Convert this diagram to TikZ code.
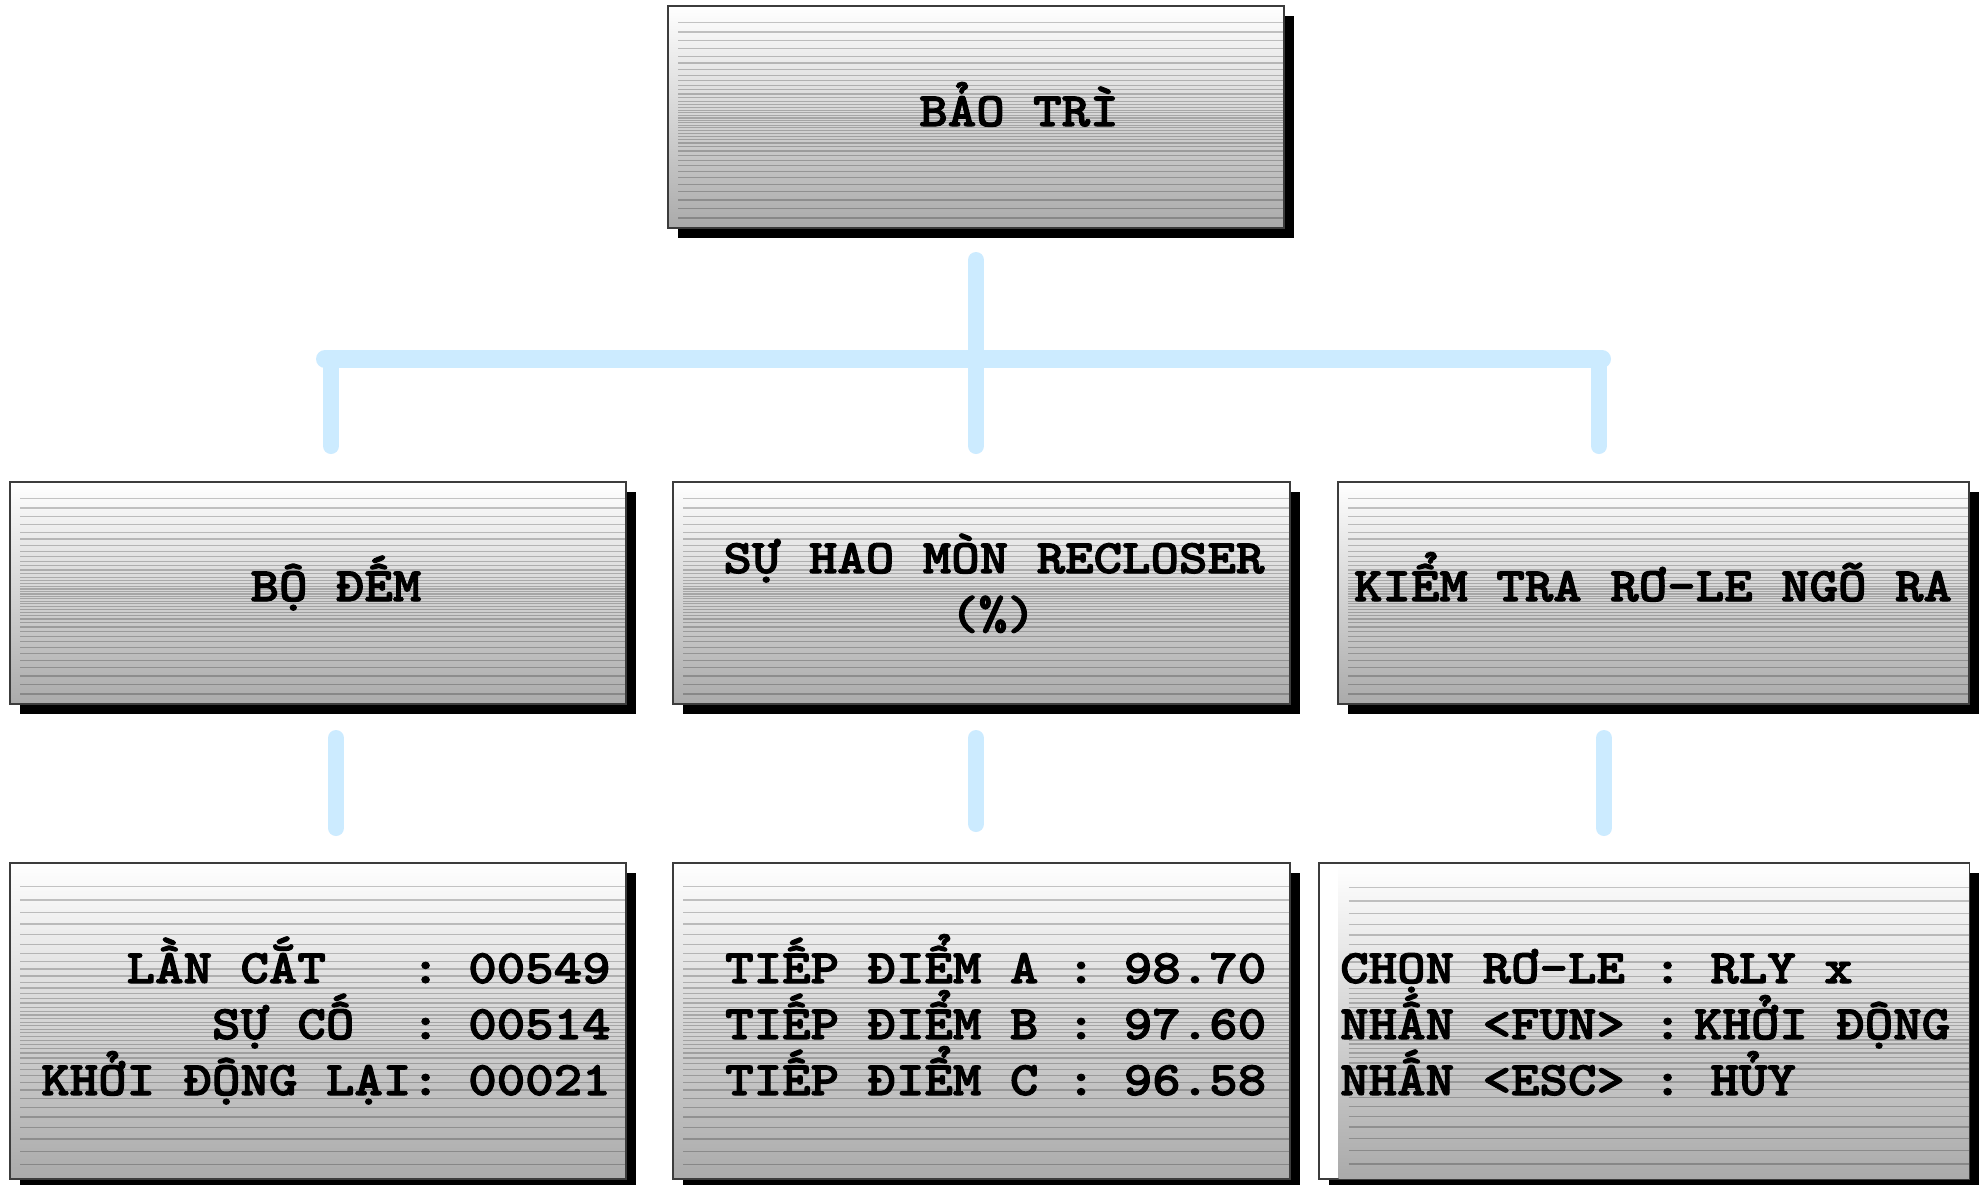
\documentclass[tikz,border=0pt]{standalone}
\usepackage{fontspec}
\setmainfont{Liberation Mono}
\newfontfamily\courfont{lmmonolt10-bold.otf}[FakeStretch=1.13,FakeBold=2.2]
\usetikzlibrary{shadows,calc}
\definecolor{connc}{RGB}{204,235,255}
\definecolor{framec}{RGB}{60,60,60}
\definecolor{botc}{RGB}{170,170,170}
\tikzset{
  stripes/.style={path picture={
    \foreach \i in {-20,...,20}{
      \pgfmathsetmacro\u{\i/20}
      \pgfmathsetmacro\t{0.515+0.44*(0.5*\u+0.5*\u*\u*\u)}
      \draw[black,opacity=0.22,line width=1.3pt]
        ($(path picture bounding box.north west)!\t!(path picture bounding box.south west)+(10,0)$) --
        ($(path picture bounding box.north east)!\t!(path picture bounding box.south east)$);
    }}},
  panel/.style={rectangle, draw=framec, line width=1.4pt, top color=white, bottom color=botc,
    stripes, inner sep=0pt,
    drop shadow={shadow xshift=10pt,shadow yshift=-10pt,opacity=1,fill=black}},
  txt/.style={font=\courfont\fontsize{48}{56}\selectfont\frenchspacing, text=black, inner sep=0pt},
  linkline/.style={draw=connc, line width=16pt, line cap=round},
}
\begin{document}
\begin{tikzpicture}[x=1pt,y=-1pt]
\useasboundingbox (0,0) rectangle (1988,1184);
\fill[white] (0,0) rectangle (1988,1184);

% boxes
\node[panel, minimum width=616, minimum height=222] (top) at (976,117) {};
\node[panel, minimum width=616, minimum height=222] (ml) at (318,593) {};
\node[panel, minimum width=617, minimum height=222] (mm) at (981.5,593) {};
\node[panel, minimum width=631, minimum height=222] (mr) at (1653.5,593) {};
\node[panel, minimum width=616, minimum height=316] (bl) at (318,1021) {};
\node[panel, minimum width=617, minimum height=316] (bm) at (981.5,1021) {};
\node[rectangle, draw=framec, line width=1.4pt, fill=white, inner sep=0pt,
  minimum width=650, minimum height=316,
  drop shadow={shadow xshift=10pt,shadow yshift=-10pt,opacity=1,fill=black}] (br) at (1644,1021) {};
\node[rectangle, top color=white, bottom color=botc, stripes, inner sep=0pt,
  minimum width=631, minimum height=314] (brin) at (1654,1021) {};
\draw[framec, line width=1.4pt] (br.north west) rectangle (br.south east);

% connectors
\coordinate (v0) at (976,260);
\coordinate (v1) at (976,446);
\coordinate (h0) at (325,359);
\coordinate (h1) at (1602,359);
\coordinate (dl0) at (331,359);
\coordinate (dl1) at (331,446);
\coordinate (dr0) at (1599,359);
\coordinate (dr1) at (1599,446);
\draw[linkline, line width=18pt] (h0) -- (h1);
\draw[linkline] (v0) -- (v1);
\draw[linkline] (dl0) -- (dl1);
\draw[linkline] (dr0) -- (dr1);

\coordinate (l0) at (336,738);
\coordinate (l1) at (336,828);
\coordinate (m0) at (976,738);
\coordinate (m1) at (976,824);
\coordinate (r0) at (1604,738);
\coordinate (r1) at (1604,828);
\draw[linkline] (l0) -- (l1);
\draw[linkline] (m0) -- (m1);
\draw[linkline] (r0) -- (r1);

% texts
\node[txt, anchor=base] (t0) at (1019,126) {BẢO TRÌ};
\node[txt, anchor=base] (t1) at (336,601) {BỘ ĐẾM};
\node[txt, anchor=base] (t2a) at (994,573) {SỰ HAO MÒN RECLOSER};
\node[txt, anchor=base] (t2b) at (993,629) {(\%)};
\node[txt, anchor=base] (t3) at (1653,601) {KIỂM TRA RƠ-LE NGÕ RA};

\node[txt, anchor=base west] (bl1) at (41,983) {~~~LẦN~CẮT~~~:~00549};
\node[txt, anchor=base west] (bl2) at (41,1039) {~~~~~~SỰ~CỐ~~:~00514};
\node[txt, anchor=base west] (bl3) at (41,1095) {KHỞI~ĐỘNG~LẠI:~00021};

\node[txt, anchor=base west] (bm1) at (725,983) {TIẾP~ĐIỂM~A~:~98.70};
\node[txt, anchor=base west] (bm2) at (725,1039) {TIẾP~ĐIỂM~B~:~97.60};
\node[txt, anchor=base west] (bm3) at (725,1095) {TIẾP~ĐIỂM~C~:~96.58};

\node[txt, anchor=base west] (br1) at (1340,983) {CHỌN~RƠ-LE~:~RLY~x};
\node[txt, anchor=base west] (br2) at (1340,1039) {NHẤN~<FUN>~:\hspace*{12pt}KHỞI~ĐỘNG};
\node[txt, anchor=base west] (br3) at (1340,1095) {NHẤN~<ESC>~:~HỦY};
\end{tikzpicture}
\end{document}
